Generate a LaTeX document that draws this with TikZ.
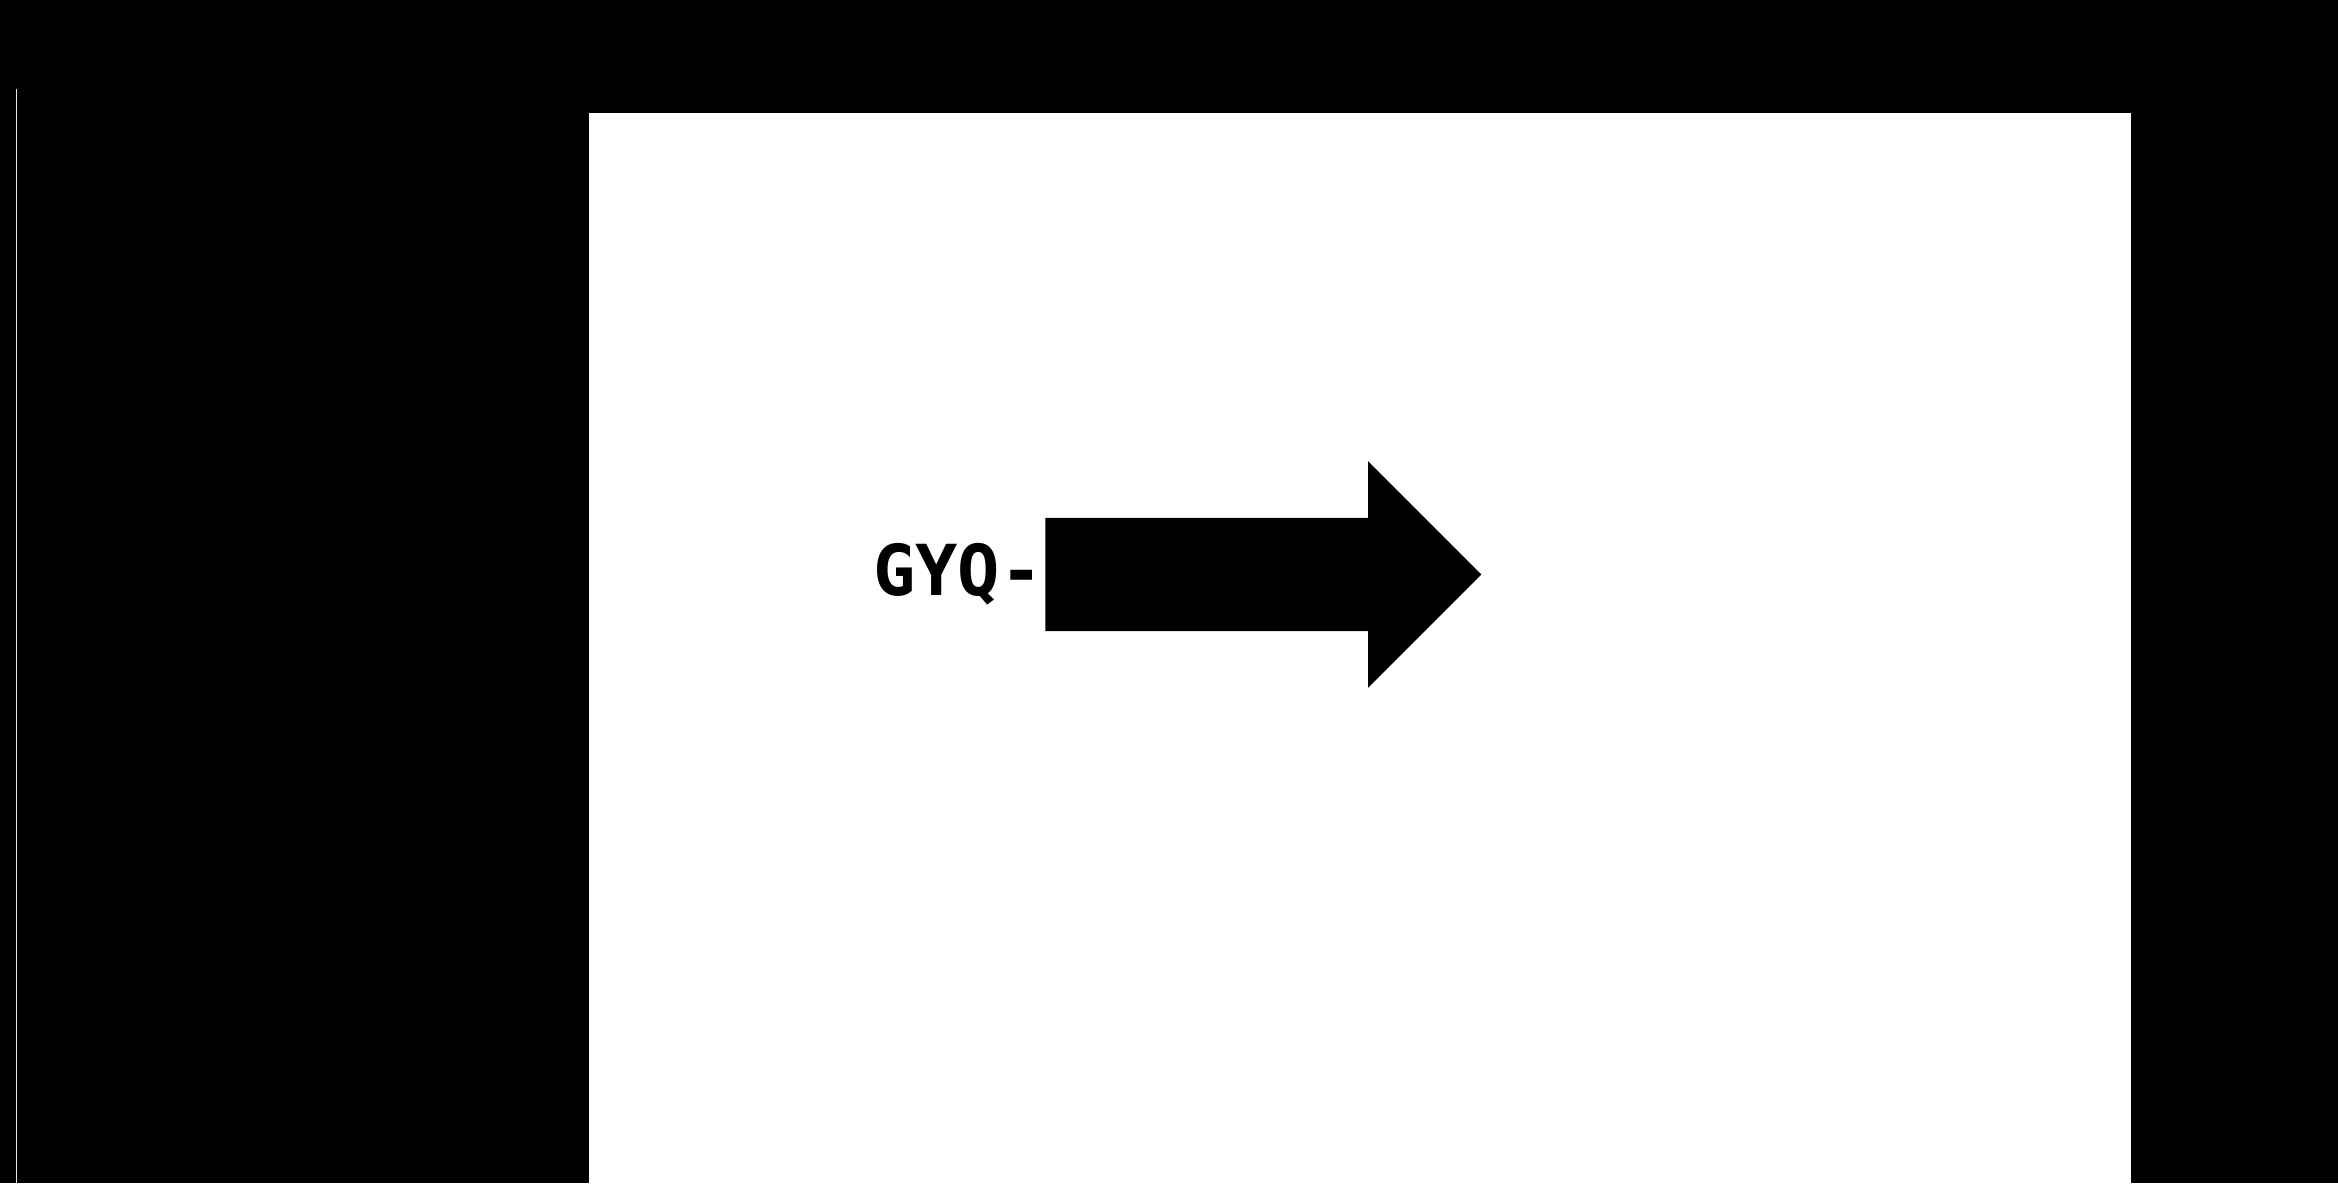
\documentclass[tikz,border=0pt]{standalone}
\usepackage{fontspec}
\newfontfamily\labelfont{DejaVu Sans Mono}
\usetikzlibrary{positioning, shapes.arrows}
\begin{document}
\begin{tikzpicture}[
        bigarrow/.style={single arrow, fill=black, draw=none, inner xsep=0pt, inner ysep=0.56cm,
                         outer sep=0pt, minimum height=4.36cm, single arrow head extend=0.565cm,
                         single arrow head indent=0pt},
        tag/.style={font=\labelfont\bfseries\fontsize{20}{23}\selectfont, inner sep=0pt, text=black}
    ]
    % Background and page
    \fill[black] (0,0) rectangle (23.38,11.83);
    \fill[white] (5.89,0) rectangle (21.31,10.70);
    \useasboundingbox (0,0) rectangle (23.38,11.83);

    % Thin margin line
    \coordinate (rulebot) at (0.165,0);
    \coordinate (ruletop) at (0.165,10.935);
    \draw[white!90!black, line width=0.35pt] (rulebot) -- (ruletop);

    % Arrow and its label
    \node[bigarrow] (arrow) at (12.35,6.085) {};
    \node[tag, anchor=base east] (label) at ([xshift=-0.02cm]arrow.west |- 0,5.87) {GYQ-};
\end{tikzpicture}
\end{document}
